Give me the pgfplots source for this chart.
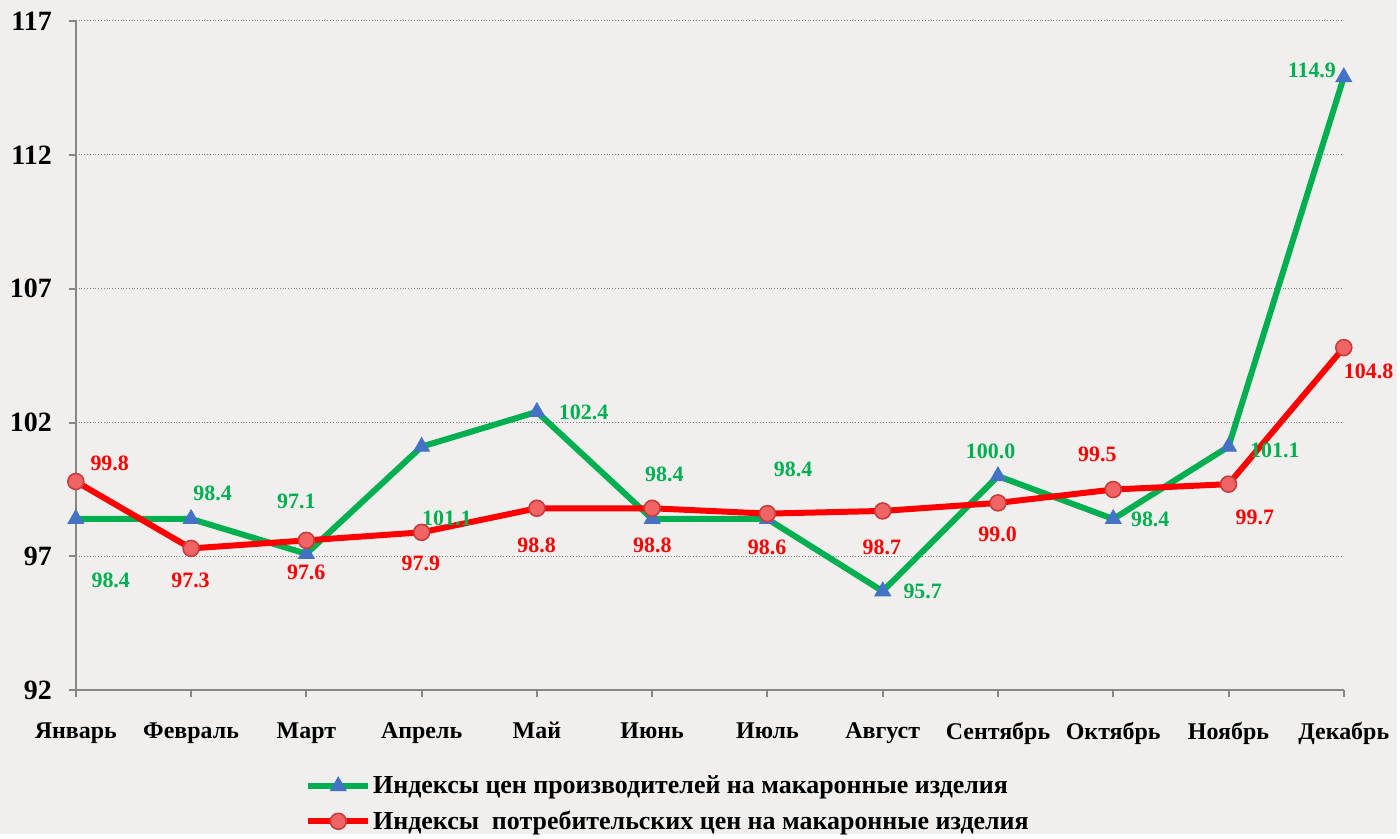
\documentclass[border=0pt]{standalone}
\usepackage{pgfplots}
\pgfplotsset{compat=1.18}
\usepackage{fontspec}
\setmainfont{Liberation Serif}
\definecolor{bg}{RGB}{240,239,237}
\definecolor{gser}{RGB}{0,176,80}
\definecolor{rser}{RGB}{255,0,0}
\definecolor{tri}{RGB}{68,114,196}
\definecolor{circf}{RGB}{240,100,100}
\definecolor{circd}{RGB}{200,60,60}
\definecolor{axg}{RGB}{134,134,134}
\begin{document}
\begin{tikzpicture}
\fill[bg] (0,0) rectangle (700pt,418pt);
\begin{axis}[
  at={(38pt,72pt)}, anchor=south west,
  scale only axis, width=635.5pt, height=335.5pt,
  xmin=0, xmax=11, ymin=92, ymax=117,
  ytick={92,97,102,107,112,117},
  yticklabels={92,97,102,107,112,117},
  xtick={0,...,11},
  xticklabels={Январь,Февраль,Март,Апрель,Май,Июнь,Июль,Август,Сентябрь,Октябрь,Ноябрь,Декабрь},
  axis x line*=bottom, axis y line*=left,
  axis line style={axg, line width=1pt},
  tick style={axg, line width=1pt},
  tick align=outside, major tick length=3.5pt,
  ymajorgrids, grid style={densely dotted, gray, line width=0.5pt},
  yticklabel style={font=\bfseries\fontsize{14}{15}\selectfont, xshift=-5pt},
  xticklabel style={font=\bfseries\fontsize{12}{13}\selectfont, yshift=-9pt},
  clip=false,
  legend style={at={(0.176,-0.118)}, anchor=north west, draw=none, fill=none,
    font=\bfseries\fontsize{13}{15}\selectfont, row sep=5pt,
    nodes={inner sep=1pt}},
  legend cell align=left,
  legend image code/.code={
    \draw[mark repeat=2,mark phase=2] plot coordinates {(0pt,0pt)(15pt,0pt)(30pt,0pt)};},
]
\addplot[gser, line width=3pt, mark=triangle*, mark size=4.5pt,
  mark options={fill=tri, draw=tri, line width=0.5pt}]
  coordinates {(0,98.4)(1,98.4)(2,97.1)(3,101.1)(4,102.4)(5,98.4)(6,98.4)(7,95.7)(8,100.0)(9,98.4)(10,101.1)(11,114.9)};
\addlegendentry{Индексы цен производителей на макаронные изделия}
\addplot[rser, line width=3pt, mark=*, mark size=4pt,
  mark options={fill=circf, draw=circd, line width=0.8pt}]
  coordinates {(0,99.8)(1,97.3)(2,97.6)(3,97.9)(4,98.8)(5,98.8)(6,98.6)(7,98.7)(8,99.0)(9,99.5)(10,99.7)(11,104.8)};
\addlegendentry{Индексы\ \ потребительских цен на макаронные изделия}

\begin{scope}[every node/.style={font=\bfseries\fontsize{11}{12}\selectfont}]
\node[gser] at (axis cs:0.303,96.10) {98.4};
\node[gser] at (axis cs:1.186,99.34) {98.4};
\node[gser] at (axis cs:1.913,99.04) {97.1};
\node[gser] at (axis cs:3.219,98.41) {101.1};
\node[gser] at (axis cs:4.405,102.39) {102.4};
\node[gser] at (axis cs:5.106,100.08) {98.4};
\node[gser] at (axis cs:6.222,100.27) {98.4};
\node[gser] at (axis cs:7.347,95.69) {95.7};
\node[gser] at (axis cs:7.936,100.94) {100.0};
\node[gser] at (axis cs:9.321,98.37) {98.4};
\node[gser] at (axis cs:10.402,100.98) {101.1};
\node[gser] at (axis cs:10.723,115.17) {114.9};
\node[rser] at (axis cs:0.294,100.49) {99.8};
\node[rser] at (axis cs:0.995,96.10) {97.3};
\node[rser] at (axis cs:1.999,96.40) {97.6};
\node[rser] at (axis cs:2.994,96.73) {97.9};
\node[rser] at (axis cs:3.998,97.40) {98.8};
\node[rser] at (axis cs:5.002,97.40) {98.8};
\node[rser] at (axis cs:5.997,97.33) {98.6};
\node[rser] at (axis cs:6.993,97.33) {98.7};
\node[rser] at (axis cs:7.997,97.81) {99.0};
\node[rser] at (axis cs:8.862,100.83) {99.5};
\node[rser] at (axis cs:10.229,98.45) {99.7};
\node[rser] at (axis cs:11.216,103.92) {104.8};
\end{scope}
\end{axis}
\end{tikzpicture}
\end{document}
